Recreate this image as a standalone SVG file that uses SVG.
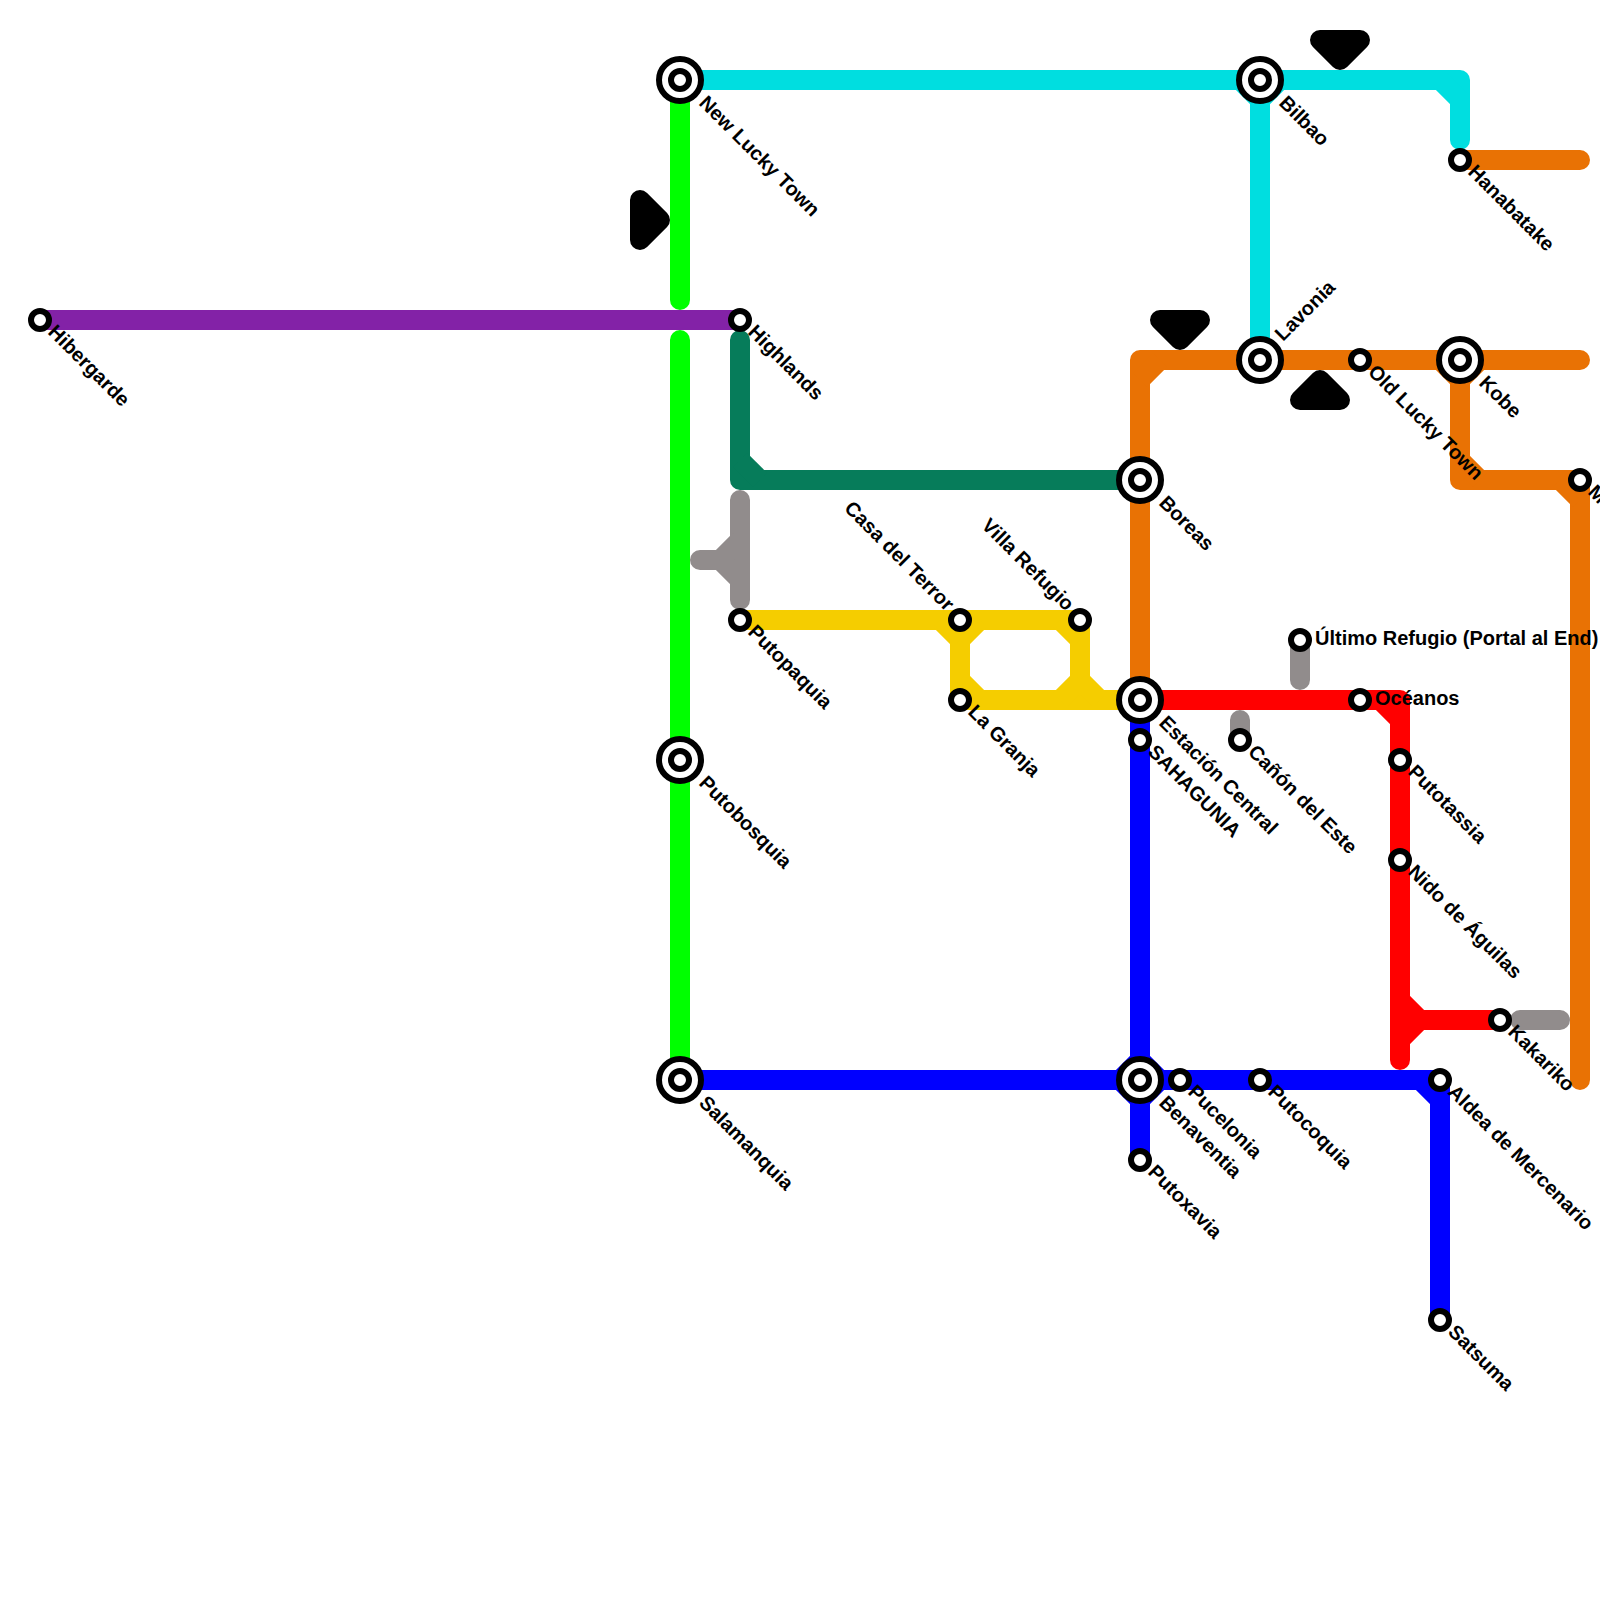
<svg xmlns="http://www.w3.org/2000/svg" width="1600" height="1600" viewBox="0 0 1600 1600">
<style>
.l{fill:none;stroke-width:20;stroke-linejoin:round;stroke-linecap:round}
.f{fill:none;stroke-width:20;stroke-linecap:butt}
.green{stroke:#00ff00}.purple{stroke:#8322a7}.dgreen{stroke:#067c5a}.gray{stroke:#918c8c}.yellow{stroke:#f5cd00}.orange{stroke:#e97204}.cyan{stroke:#00dee0}.red{stroke:#ff0000}.blue{stroke:#0000ff}
.tri{fill:#000;stroke:#000;stroke-width:20;stroke-linejoin:round}
.s{fill:#fff;stroke:#000;stroke-width:6}
text{font-family:"Liberation Sans",Arial,sans-serif;font-size:20px;font-weight:700;fill:#000}
</style>
<g id="connectors">
<path class="l green" d="M680 80V300M680 340V1080"/>
<path class="l purple" d="M40 320H740"/>
<path class="l dgreen" d="M740 340V480H1140"/>
<path class="f dgreen" d="M740 460L760 480"/>
<path class="l gray" d="M740 500V600M700 560H740"/>
<path class="f gray" d="M720 560L740 540M720 560L740 580"/>
<path class="l yellow" d="M740 620H1080V700M960 620V700H1140"/>
<path class="f yellow" d="M940 620L960 640M980 620L960 640M960 680L980 700M1060 620L1080 640M1080 680L1060 700M1080 680L1100 700"/>
<path class="l orange" d="M1140 700V360H1580M1460 360V480H1580V1080M1460 160H1580"/>
<path class="f orange" d="M1140 380L1160 360M1440 360L1460 380M1480 360L1460 380M1460 460L1480 480M1560 480L1580 500"/>
<path class="l cyan" d="M680 80H1460V140M1260 80V360"/>
<path class="f cyan" d="M1240 80L1260 100M1280 80L1260 100M1440 80L1460 100"/>
<path class="l blue" d="M1140 700V1160M680 1080H1440V1320"/>
<path class="f blue" d="M1120 1080L1140 1060M1140 1060L1160 1080M1120 1080L1140 1100M1140 1100L1160 1080M1420 1080L1440 1100"/>
<path class="l red" d="M1140 700H1400V1060M1400 1020H1500"/>
<path class="f red" d="M1380 700L1400 720M1400 1000L1420 1020M1400 1040L1420 1020"/>
<path class="l gray" d="M1300 640V680M1240 720V740M1520 1020H1560"/>
</g>
<g id="markers">
<polygon class="tri" points="640,200 660,220 640,240"/>
<polygon class="tri" points="1320,40 1360,40 1340,60"/>
<polygon class="tri" points="1160,320 1200,320 1180,340"/>
<polygon class="tri" points="1300,400 1340,400 1320,380"/>
</g>
<defs>
<g id="big"><circle class="s" r="21"/><circle class="s" r="9"/></g>
<circle id="small" class="s" r="9"/>
</defs>
<g id="n-hibergarde"><use href="#small" x="40" y="320"/><text transform="translate(47 333) rotate(45)">Hibergarde</text></g>
<g id="n-new-lucky-town"><use href="#big" x="680" y="80"/><text transform="translate(698 104) rotate(45)">New Lucky Town</text></g>
<g id="n-highlands"><use href="#small" x="740" y="320"/><text transform="translate(747 333) rotate(45)">Highlands</text></g>
<g id="n-putobosquia"><use href="#big" x="680" y="760"/><text transform="translate(698 784) rotate(45)">Putobosquia</text></g>
<g id="n-salamanquia"><use href="#big" x="680" y="1080"/><text transform="translate(698 1104) rotate(45)">Salamanquia</text></g>
<g id="n-putopaquia"><use href="#small" x="740" y="620"/><text transform="translate(747 633) rotate(45)">Putopaquia</text></g>
<g id="n-casa-del-terror"><use href="#small" x="960" y="620"/><text text-anchor="end" transform="translate(946 612) rotate(45)">Casa del Terror</text></g>
<g id="n-villa-refugio"><use href="#small" x="1080" y="620"/><text text-anchor="end" transform="translate(1066 612) rotate(45)">Villa Refugio</text></g>
<g id="n-la-granja"><use href="#small" x="960" y="700"/><text transform="translate(967 713) rotate(45)">La Granja</text></g>
<g id="n-boreas"><use href="#big" x="1140" y="480"/><text transform="translate(1158 504) rotate(45)">Boreas</text></g>
<g id="n-estacion-central"><use href="#big" x="1140" y="700"/><text transform="translate(1158 724) rotate(45)">Estación Central</text></g>
<g id="n-sahagunia"><use href="#small" x="1140" y="740"/><text transform="translate(1147 753) rotate(45)">SAHAGUNIA</text></g>
<g id="n-benaventia"><use href="#big" x="1140" y="1080"/><text transform="translate(1158 1104) rotate(45)">Benaventia</text></g>
<g id="n-pucelonia"><use href="#small" x="1180" y="1080"/><text transform="translate(1187 1093) rotate(45)">Pucelonia</text></g>
<g id="n-putocoquia"><use href="#small" x="1260" y="1080"/><text transform="translate(1267 1093) rotate(45)">Putocoquia</text></g>
<g id="n-putoxavia"><use href="#small" x="1140" y="1160"/><text transform="translate(1147 1173) rotate(45)">Putoxavia</text></g>
<g id="n-aldea"><use href="#small" x="1440" y="1080"/><text transform="translate(1447 1093) rotate(45)">Aldea de Mercenario</text></g>
<g id="n-satsuma"><use href="#small" x="1440" y="1320"/><text transform="translate(1447 1333) rotate(45)">Satsuma</text></g>
<g id="n-bilbao"><use href="#big" x="1260" y="80"/><text transform="translate(1278 104) rotate(45)">Bilbao</text></g>
<g id="n-lavonia"><use href="#big" x="1260" y="360"/><text transform="translate(1283 342) rotate(-45)">Lavonia</text></g>
<g id="n-old-lucky-town"><use href="#small" x="1360" y="360"/><text transform="translate(1367 373) rotate(45)">Old Lucky Town</text></g>
<g id="n-kobe"><use href="#big" x="1460" y="360"/><text transform="translate(1478 384) rotate(45)">Kobe</text></g>
<g id="n-hanabatake"><use href="#small" x="1460" y="160"/><text transform="translate(1467 173) rotate(45)">Hanabatake</text></g>
<g id="n-m"><use href="#small" x="1580" y="480"/><text transform="translate(1587 493) rotate(45)">M</text></g>
<g id="n-ultimo"><use href="#small" x="1300" y="640"/><text x="1315" y="645">Último Refugio (Portal al End)</text></g>
<g id="n-oceanos"><use href="#small" x="1360" y="700"/><text x="1375" y="705">Océanos</text></g>
<g id="n-canon"><use href="#small" x="1240" y="740"/><text transform="translate(1247 753) rotate(45)">Cañón del Este</text></g>
<g id="n-putotassia"><use href="#small" x="1400" y="760"/><text transform="translate(1407 773) rotate(45)">Putotassia</text></g>
<g id="n-nido"><use href="#small" x="1400" y="860"/><text transform="translate(1407 873) rotate(45)">Nido de Águilas</text></g>
<g id="n-kakariko"><use href="#small" x="1500" y="1020"/><text transform="translate(1507 1033) rotate(45)">Kakariko</text></g>
</svg>
